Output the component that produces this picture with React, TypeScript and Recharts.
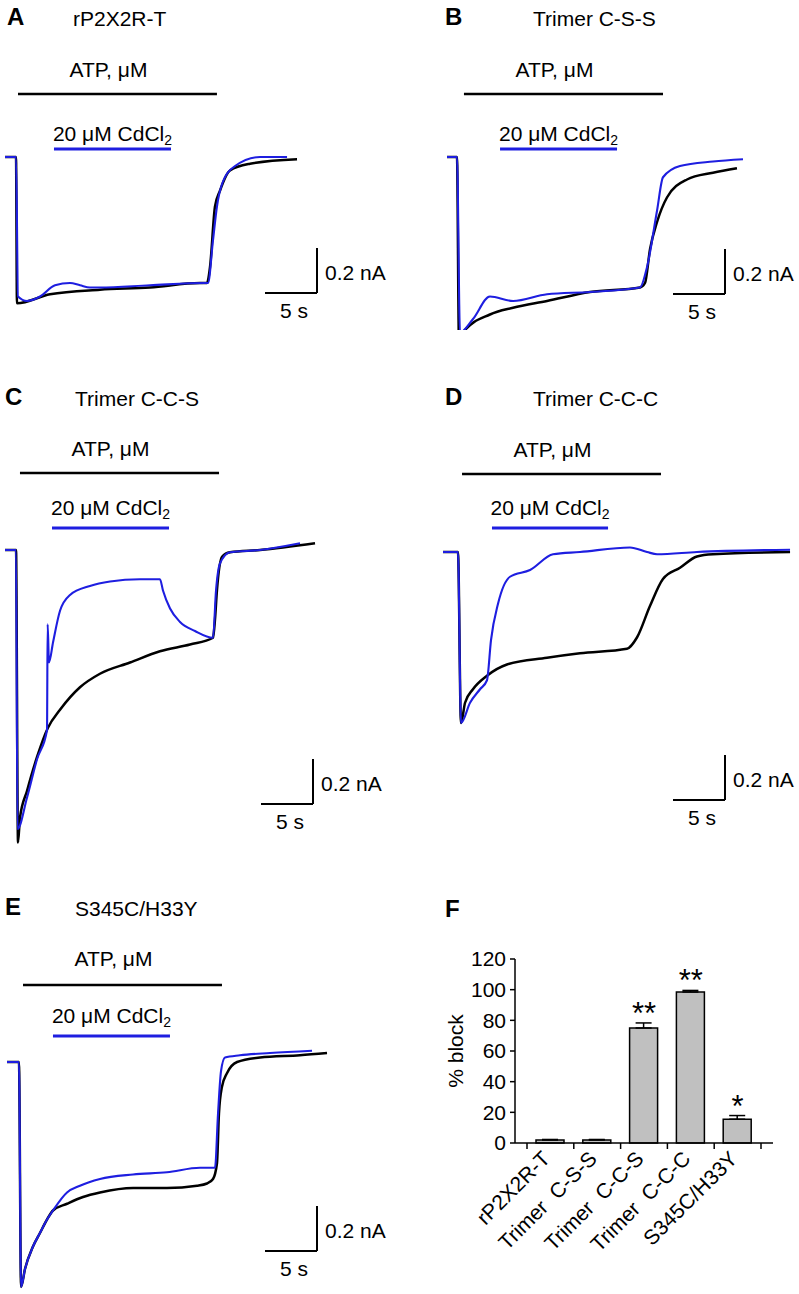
import React from 'react';
import { LineChart, Line, XAxis, YAxis, ReferenceLine, Label, ComposedChart, Bar, ErrorBar, Scatter } from 'recharts';

const FONT = '"Liberation Sans", Arial, sans-serif';
const BLUE = '#1e1ee0';
const PX_S = 10.4; // px per second on every trace panel
const PX_NA = 225; // px per nA

type Pt = [number, number];

// traces: [time s, current nA], black = ATP alone, blue = ATP + 20 µM CdCl2
const aControl: Pt[] = [[0, 0], [1.06, 0], [1.15, -0.65], [4.33, -0.61], [9.13, -0.59], [13.94, -0.58], [18.75, -0.56], [19.42, -0.56], [19.71, -0.49], [20.19, -0.22], [20.67, -0.15], [21.63, -0.06], [23.56, -0.03], [28.08, -0.01]];
const aCadmium: Pt[] = [[0, 0], [1.06, 0], [1.25, -0.62], [2.12, -0.64], [3.37, -0.62], [4.81, -0.57], [6.25, -0.56], [7.21, -0.57], [8.17, -0.58], [9.13, -0.58], [13.94, -0.57], [19.23, -0.56], [19.52, -0.56], [20.0, -0.37], [20.38, -0.22], [20.87, -0.12], [22.12, -0.04], [24.52, 0], [27.12, 0]];

const bControl: Pt[] = [[0, 0], [0.96, 0], [1.15, -0.81], [1.54, -0.78], [4.13, -0.7], [6.35, -0.67], [9.62, -0.64], [13.75, -0.6], [18.56, -0.58], [19.04, -0.56], [19.52, -0.41], [20.19, -0.29], [21.15, -0.18], [23.08, -0.1], [25.58, -0.07], [27.88, -0.05]];
const bCadmium: Pt[] = [[0, 0], [0.96, 0], [1.25, -0.78], [2.5, -0.72], [4.13, -0.62], [6.35, -0.64], [9.62, -0.61], [13.75, -0.6], [18.56, -0.58], [19.23, -0.49], [20.19, -0.24], [20.77, -0.09], [22.4, -0.04], [25.58, -0.02], [28.46, -0.01]];

const cControl: Pt[] = [[0, 0], [1.06, 0], [1.25, -1.3], [1.44, -1.19], [2.12, -1.07], [3.08, -0.92], [4.13, -0.79], [5.29, -0.71], [7.21, -0.61], [9.13, -0.55], [12.02, -0.5], [14.9, -0.45], [17.79, -0.42], [20.0, -0.39], [20.19, -0.31], [20.38, -0.18], [20.87, -0.03], [21.63, -0.01], [24.52, 0], [29.81, 0.03]];
const cCadmium: Pt[] = [[0, 0], [1.06, 0], [1.2, -1.24], [2.12, -1.1], [3.08, -0.93], [4.04, -0.8], [4.1, -0.33], [4.23, -0.5], [4.62, -0.41], [5.29, -0.27], [6.25, -0.2], [8.17, -0.16], [10.1, -0.14], [12.98, -0.13], [14.9, -0.13], [15.19, -0.18], [15.87, -0.26], [16.83, -0.32], [18.27, -0.36], [20.0, -0.39], [20.29, -0.18], [20.67, -0.06], [21.63, -0.01], [24.52, 0], [28.37, 0.03]];

const dControl: Pt[] = [[0, 0], [1.44, 0], [1.73, -0.76], [2.12, -0.67], [2.88, -0.61], [4.23, -0.55], [6.15, -0.5], [10.0, -0.47], [13.17, -0.45], [17.69, -0.43], [18.65, -0.38], [19.9, -0.24], [21.15, -0.12], [22.79, -0.07], [24.42, -0.02], [25.96, -0.01], [33.37, 0]];
const dCadmium: Pt[] = [[0, 0], [1.44, 0], [1.73, -0.76], [2.6, -0.67], [3.56, -0.61], [4.23, -0.57], [4.62, -0.39], [5.29, -0.23], [6.44, -0.11], [8.37, -0.08], [10.58, -0.01], [13.17, 0], [17.98, 0.02], [19.62, 0], [20.58, -0.01], [24.42, 0], [33.37, 0.01]];

const eControl: Pt[] = [[0, 0], [1.15, 0], [1.35, -1.0], [1.73, -0.92], [2.5, -0.82], [3.17, -0.76], [3.85, -0.7], [4.42, -0.66], [5.77, -0.63], [7.31, -0.6], [8.94, -0.58], [12.12, -0.56], [15.38, -0.56], [18.27, -0.55], [19.23, -0.54], [19.81, -0.52], [20.19, -0.45], [20.38, -0.23], [20.67, -0.11], [21.15, -0.05], [22.12, 0], [24.33, 0.02], [28.17, 0.03], [30.77, 0.04]];
const eCadmium: Pt[] = [[0, 0], [1.15, 0], [1.35, -1.0], [1.73, -0.92], [2.5, -0.82], [3.17, -0.76], [3.85, -0.7], [4.42, -0.66], [5.77, -0.58], [7.02, -0.55], [8.94, -0.52], [12.12, -0.5], [15.38, -0.49], [18.56, -0.47], [20.0, -0.47], [20.29, -0.23], [20.58, -0.04], [20.96, 0.02], [22.4, 0.03], [25.29, 0.04], [29.33, 0.05]];

// drug application windows (s)
const atpWindows: Pt[] = [[1.25, 20.38], [1.63, 20.77], [1.44, 20.58], [1.83, 20.96], [1.54, 20.67]];
const cdWindows: Pt[] = [[4.71, 15.96], [5.1, 16.35], [4.52, 15.77], [4.71, 15.87], [4.42, 15.67]];

// panel F
const groups = ['rP2X2R-T', 'Trimer  C-S-S', 'Trimer  C-C-S', 'Trimer  C-C-C', 'S345C/H33Y'];
const blockMean = [2, 2, 75, 98.5, 15.5];
const blockSem = [0.3, 0.3, 3.3, 1.0, 2.4];
const signif = ['', '', '**', '**', '*'];
const blockTicks = [0, 20, 40, 60, 80, 100, 120];

const panels = [
  { letter: 'A', name: 'rP2X2R-T', lx: 7, nx: 73, base: 25, box: { left: 0, top: 45, width: 400, height: 285, x0: 5, yb: 157, atpY: 94, cdY: 149, atpGap: 17, cdGap: 8, barX: 317, barY: 293 }, control: aControl, cadmium: aCadmium },
  { letter: 'B', name: 'Trimer C-S-S', lx: 445, nx: 533, base: 25, box: { left: 400, top: 45, width: 399, height: 285, x0: 447, yb: 157, atpY: 94, cdY: 149, atpGap: 17, cdGap: 8, barX: 725, barY: 294 }, control: bControl, cadmium: bCadmium },
  { letter: 'C', name: 'Trimer C-C-S', lx: 5, nx: 75, base: 405, box: { left: 0, top: 425, width: 400, height: 430, x0: 5, yb: 550, atpY: 473, cdY: 528, atpGap: 17, cdGap: 13, barX: 313, barY: 804 }, control: cControl, cadmium: cCadmium },
  { letter: 'D', name: 'Trimer C-C-C', lx: 445, nx: 533, base: 405, box: { left: 400, top: 425, width: 399, height: 430, x0: 443, yb: 552, atpY: 474, cdY: 528, atpGap: 17, cdGap: 13, barX: 725, barY: 800 }, control: dControl, cadmium: dCadmium },
  { letter: 'E', name: 'S345C/H33Y', lx: 5, nx: 75, base: 915, box: { left: 0, top: 925, width: 400, height: 369, x0: 7, yb: 1062, atpY: 985, cdY: 1036, atpGap: 19, cdGap: 13, barX: 317, barY: 1251 }, control: eControl, cadmium: eCadmium },
];

const textStyle = { fontFamily: FONT, fontSize: 21, fill: '#000' };

function HeadText({ x, base, size, bold, children }: any) {
  return (
    <div style={{ position: 'absolute', left: x, top: base - 0.8465 * size, fontFamily: FONT, fontSize: size, lineHeight: `${size}px`, fontWeight: bold ? 700 : 400, color: '#000', whiteSpace: 'pre' }}>
      {children}
    </div>
  );
}

const above = (content: React.ReactNode, gap: number, dx: number) => (p: any) => {
  const vb = p.viewBox;
  return <text x={vb.x + vb.width / 2 + dx} y={vb.y - gap} textAnchor="middle" {...textStyle}>{content}</text>;
};
const below = (content: string) => (p: any) => {
  const vb = p.viewBox;
  return <text x={vb.x + vb.width / 2 + 3} y={vb.y + 25} textAnchor="middle" {...textStyle}>{content}</text>;
};
const rightOf = (content: string) => (p: any) => {
  const vb = p.viewBox;
  return <text x={vb.x + 8} y={vb.y + vb.height / 2 + 9} textAnchor="start" {...textStyle}>{content}</text>;
};

function TracePanel({ box, control, cadmium, atp, cd }: any) {
  const xDomain = [(box.left - box.x0) / PX_S, (box.left + box.width - box.x0) / PX_S];
  const yDomain = [(box.yb - box.top - box.height) / PX_NA, (box.yb - box.top) / PX_NA];
  const toI = (py: number) => (box.yb - py) / PX_NA;
  const tc = (box.barX - box.x0) / PX_S;
  const ic = toI(box.barY);
  const ctrl = control.map(([t, i]: Pt) => ({ t, i }));
  const cad = cadmium.map(([t, i]: Pt) => ({ t, i }));
  const cdText = (
    <>
      20 μM CdCl<tspan fontSize={14} dy={4}>2</tspan>
    </>
  );
  return (
    <div style={{ position: 'absolute', left: box.left, top: box.top }}>
      <LineChart width={box.width} height={box.height} margin={{ top: 0, right: 0, bottom: 0, left: 0 }}>
        <XAxis type="number" dataKey="t" domain={xDomain} allowDataOverflow hide />
        <YAxis type="number" domain={yDomain} allowDataOverflow hide />
        <ReferenceLine
          segment={[{ x: atp[0], y: toI(box.atpY) }, { x: atp[1], y: toI(box.atpY) }]}
          stroke="#000" strokeWidth={2.6}
          label={<Label content={above('ATP, μM', box.atpGap, -9)} />}
        />
        <ReferenceLine
          segment={[{ x: cd[0], y: toI(box.cdY) }, { x: cd[1], y: toI(box.cdY) }]}
          stroke={BLUE} strokeWidth={3}
          label={<Label content={above(cdText, box.cdGap, 0)} />}
        />
        <ReferenceLine
          segment={[{ x: tc - 5, y: ic }, { x: tc, y: ic }]}
          stroke="#000" strokeWidth={2}
          label={<Label content={below('5 s')} />}
        />
        <ReferenceLine
          segment={[{ x: tc, y: ic }, { x: tc, y: ic + 0.2 }]}
          stroke="#000" strokeWidth={2}
          label={<Label content={rightOf('0.2 nA')} />}
        />
        <Line data={ctrl} dataKey="i" type="monotoneX" stroke="#000" strokeWidth={2.5} dot={false} isAnimationActive={false} />
        <Line data={cad} dataKey="i" type="monotoneX" stroke={BLUE} strokeWidth={2.1} dot={false} isAnimationActive={false} />
      </LineChart>
    </div>
  );
}

const HALF_BAND = 23.4;

function GroupTick({ x, y, payload, index }: any) {
  const tx = x + 1;
  const ty = y + 17;
  return (
    <g>
      {index === 0 && <line x1={x - HALF_BAND} y1={y} x2={x - HALF_BAND} y2={y + 6} stroke="#000" strokeWidth={1.5} />}
      <line x1={x + HALF_BAND} y1={y} x2={x + HALF_BAND} y2={y + 6} stroke="#000" strokeWidth={1.5} />
      <text x={tx} y={ty} textAnchor="end" transform={`rotate(-45 ${tx} ${ty})`} style={{ whiteSpace: 'pre' }} {...textStyle}>
        {payload.value}
      </text>
    </g>
  );
}

function Star(p: any) {
  if (!p.payload || !p.payload.sig) return <g />;
  return <text x={p.cx} y={p.cy + 1} textAnchor="middle" fontFamily={FONT} fontSize={31} fill="#000">{p.payload.sig}</text>;
}

function BlockChart() {
  const data = groups.map((g, k) => ({ name: g, mean: blockMean[k], err: [0, blockSem[k]], top: blockMean[k] + blockSem[k], sig: signif[k] }));
  return (
    <div style={{ position: 'absolute', left: 420, top: 940 }}>
      <ComposedChart width={379} height={343} data={data} margin={{ top: 19, right: 26, bottom: 0, left: 35 }}>
        <XAxis
          dataKey="name" type="category" padding={{ left: 12, right: 12 }} height={140} interval={0}
          tickLine={false} tickSize={0} tickMargin={0}
          axisLine={{ stroke: '#000', strokeWidth: 1.5 }}
          tick={<GroupTick />}
        />
        <YAxis
          type="number" domain={[0, 120]} ticks={blockTicks} width={60} tickSize={5} tickMargin={4}
          axisLine={{ stroke: '#000', strokeWidth: 1.5 }} tickLine={{ stroke: '#000', strokeWidth: 1.5 }}
          tick={{ fill: '#000', fontSize: 21, fontFamily: FONT }}
        >
          <Label content={(p: any) => {
            const vb = p.viewBox;
            const lx = vb.x + 8;
            const ly = vb.y + vb.height / 2;
            return <text x={lx} y={ly} textAnchor="middle" transform={`rotate(-90 ${lx} ${ly})`} {...textStyle}>% block</text>;
          }} />
        </YAxis>
        <Bar dataKey="mean" fill="#c0c0c0" stroke="#000" strokeWidth={1.5} barSize={28} isAnimationActive={false}>
          <ErrorBar dataKey="err" width={8} stroke="#000" strokeWidth={1.5} direction="y" />
        </Bar>
        <Scatter dataKey="top" shape={Star} isAnimationActive={false} />
      </ComposedChart>
    </div>
  );
}

export default function App() {
  return (
    <div style={{ position: 'absolute', left: 0, top: 0, width: 799, height: 1294, background: '#fff', overflow: 'hidden' }}>
      {panels.map((p, k) => (
        <React.Fragment key={p.letter}>
          <HeadText x={p.lx} base={p.base} size={24} bold>{p.letter}</HeadText>
          <HeadText x={p.nx} base={p.base + 1} size={21}>{p.name}</HeadText>
          <TracePanel box={p.box} control={p.control} cadmium={p.cadmium} atp={atpWindows[k]} cd={cdWindows[k]} />
        </React.Fragment>
      ))}
      <HeadText x={445} base={917} size={24} bold>F</HeadText>
      <BlockChart />
    </div>
  );
}
